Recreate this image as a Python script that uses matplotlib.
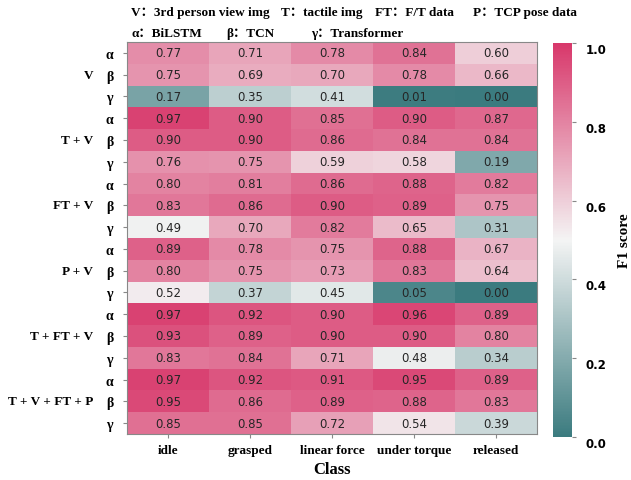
import numpy as np
import matplotlib
matplotlib.use('Agg')
import matplotlib.pyplot as plt
from matplotlib.colors import LinearSegmentedColormap

classes = ['idle', 'grasped', 'linear force', 'under torque', 'released']
groups = ['V', 'T + V', 'FT + V', 'P + V', 'T + FT + V', 'T + V + FT + P']
models = ['α', 'β', 'γ']

f1_V = [[0.77, 0.71, 0.78, 0.84, 0.60],
        [0.75, 0.69, 0.70, 0.78, 0.66],
        [0.17, 0.35, 0.41, 0.01, 0.00]]
f1_TV = [[0.97, 0.90, 0.85, 0.90, 0.87],
         [0.90, 0.90, 0.86, 0.84, 0.84],
         [0.76, 0.75, 0.59, 0.58, 0.19]]
f1_FTV = [[0.80, 0.81, 0.86, 0.88, 0.82],
          [0.83, 0.86, 0.90, 0.89, 0.75],
          [0.49, 0.70, 0.82, 0.65, 0.31]]
f1_PV = [[0.89, 0.78, 0.75, 0.88, 0.67],
         [0.80, 0.75, 0.73, 0.83, 0.64],
         [0.52, 0.37, 0.45, 0.05, 0.00]]
f1_TFTV = [[0.97, 0.92, 0.90, 0.96, 0.89],
           [0.93, 0.89, 0.90, 0.90, 0.80],
           [0.83, 0.84, 0.71, 0.48, 0.34]]
f1_all = [[0.97, 0.92, 0.91, 0.95, 0.89],
          [0.95, 0.86, 0.89, 0.88, 0.83],
          [0.85, 0.85, 0.72, 0.54, 0.39]]

data = np.array(f1_V + f1_TV + f1_FTV + f1_PV + f1_TFTV + f1_all)
nrow, ncol = data.shape

serif = ['Liberation Serif', 'Noto Sans CJK SC']
cmap = LinearSegmentedColormap.from_list('tp', ['#3b7b7f', '#f4f4f4', '#d8386b'])

fig = plt.figure(figsize=(6.31, 4.81), dpi=100)
ax = fig.add_axes([127/631, 1-435/481, 410/631, 392/481])
cax = fig.add_axes([553/631, 1-438/481, 19/631, 394/481])

im = ax.imshow(data, cmap=cmap, vmin=0, vmax=1, aspect='auto')

for i in range(nrow):
    for j in range(ncol):
        ax.text(j, i, '%.2f' % data[i, j], ha='center', va='center',
                fontsize=8.5, color='#262626')

ax.set_xticks(range(ncol))
ax.set_xticklabels(classes, family=serif, fontweight='bold', fontsize=9.5)
ax.set_yticks(range(nrow))
ax.set_yticklabels(models * len(groups), family=serif, fontweight='bold', fontsize=10)
ax.tick_params(axis='x', length=3, color='#888888', pad=4)
ax.tick_params(axis='y', length=3, color='#888888', pad=7)
ax.set_xlabel('Class', family=serif, fontweight='bold', fontsize=12, labelpad=4)
for s in ax.spines.values():
    s.set_color('#888888')
    s.set_linewidth(0.8)

for k, g in enumerate(groups):
    ax.text(-0.083, 1 - (3*k + 1.5)/nrow, g, transform=ax.transAxes,
            ha='right', va='center', family=serif, fontweight='bold', fontsize=9.5)

cbar = fig.colorbar(im, cax=cax)
cbar.outline.set_visible(False)
cbar.set_ticks([0.0, 0.2, 0.4, 0.6, 0.8, 1.0])
cax.tick_params(length=3, color='#888888', labelsize=8.5, pad=7)
for t in cax.get_yticklabels():
    t.set_fontweight('bold')
    t.set_va('top')
cbar.set_label('F1 score', family=serif, fontweight='bold', fontsize=11, labelpad=8)

top1 = [('V：3rd person view img', 131), ('T：tactile img', 281),
        ('FT：F/T data', 375), ('P：TCP pose data', 473)]
top2 = [('α：BiLSTM', 131), ('β：TCN', 226), ('γ：Transformer', 311)]
for txt, x in top1:
    fig.text(x/631, 1-13/481, txt, ha='left', va='center', family=serif,
             fontweight='bold', fontsize=9.5)
for txt, x in top2:
    fig.text(x/631, 1-34/481, txt, ha='left', va='center', family=serif,
             fontweight='bold', fontsize=9.5)

fig.savefig('out.png', dpi=100)
